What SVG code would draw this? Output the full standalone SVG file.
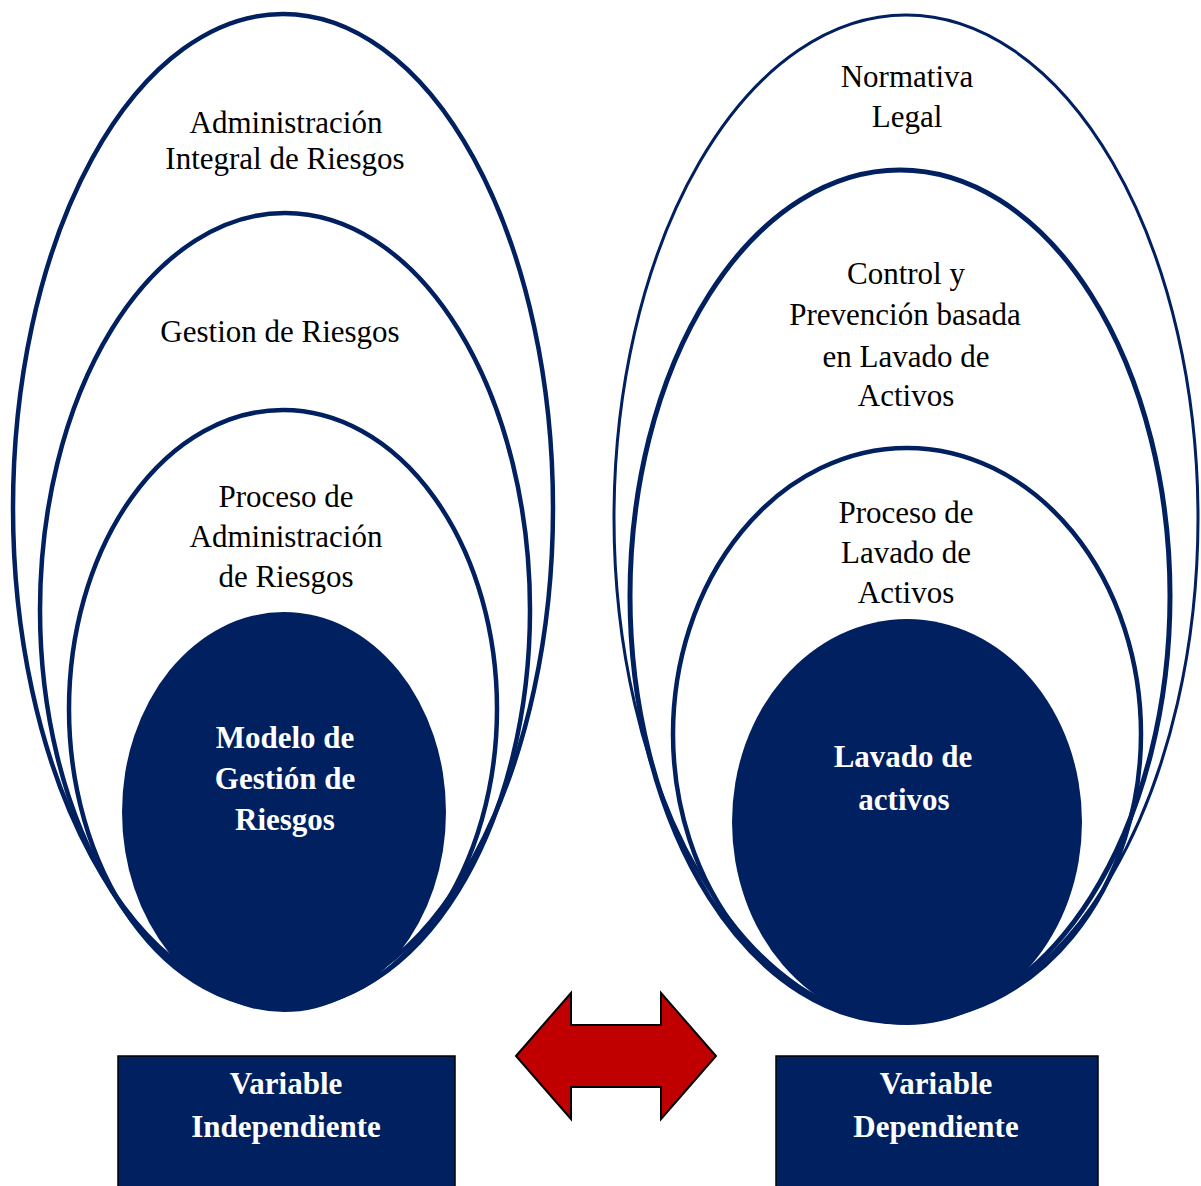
<svg xmlns="http://www.w3.org/2000/svg" width="1201" height="1186" viewBox="0 0 1201 1186">
<style>
.ring{fill:none;stroke:#002060;stroke-width:4.5}
.core{fill:#002060;stroke:none}
.t{font-family:"Liberation Serif","Times New Roman",serif;font-size:31px;fill:#000;text-anchor:middle}
.tb{font-family:"Liberation Serif","Times New Roman",serif;font-size:31px;font-weight:bold;fill:#fff;text-anchor:middle}
.box{fill:#002060;stroke:#000;stroke-width:1.5}
</style>
<rect width="1201" height="1186" fill="#fff"/>
<g id="left-outer"><ellipse class="ring" cx="283" cy="508" rx="270" ry="494"/>
<text class="t" x="286" y="133">Administración</text><text class="t" x="285" y="169">Integral de Riesgos</text></g>
<g id="left-second"><ellipse class="ring" cx="285" cy="610" rx="245" ry="397"/>
<text class="t" x="280" y="342">Gestion de Riesgos</text></g>
<g id="left-third"><ellipse class="ring" cx="283" cy="709" rx="214" ry="299"/>
<text class="t" x="286" y="507">Proceso de</text><text class="t" x="286" y="547">Administración</text><text class="t" x="286" y="587">de Riesgos</text></g>
<g id="left-core"><ellipse class="core" cx="284" cy="812" rx="162" ry="200"/>
<text class="tb" x="285" y="748">Modelo de</text><text class="tb" x="285" y="789">Gestión de</text><text class="tb" x="285" y="830">Riesgos</text></g>

<g id="right-outer"><ellipse class="ring" style="stroke-width:3" cx="906" cy="518" rx="292" ry="503"/>
<text class="t" x="907" y="87">Normativa</text><text class="t" x="907" y="127">Legal</text></g>
<g id="right-second"><ellipse class="ring" style="stroke-width:5" cx="900" cy="596" rx="270" ry="426"/>
<text class="t" x="906" y="284">Control y</text><text class="t" x="905" y="325">Prevención basada</text><text class="t" x="906" y="367">en Lavado de</text><text class="t" x="906" y="406">Activos</text></g>
<g id="right-third"><ellipse class="ring" cx="907" cy="734" rx="234" ry="286"/>
<text class="t" x="906" y="523">Proceso de</text><text class="t" x="906" y="563">Lavado de</text><text class="t" x="906" y="603">Activos</text></g>
<g id="right-core"><ellipse class="core" cx="907" cy="822" rx="175" ry="203"/>
<text class="tb" x="903" y="767">Lavado de</text><text class="tb" x="904" y="810">activos</text></g>

<g id="var-indep"><rect class="box" x="118" y="1056" width="337" height="140"/>
<text class="tb" x="286" y="1094">Variable</text><text class="tb" x="286" y="1137">Independiente</text></g>
<g id="var-dep"><rect class="box" x="776" y="1056" width="322" height="140"/>
<text class="tb" x="936" y="1094">Variable</text><text class="tb" x="936" y="1137">Dependiente</text></g>

<g id="connectors">
<polygon points="516,1056 571,993 571,1025 661,1025 661,993 716,1056 661,1119 661,1087 571,1087 571,1119" fill="#C00000" stroke="#000" stroke-width="2" stroke-linejoin="miter"/>
</g>
</svg>
